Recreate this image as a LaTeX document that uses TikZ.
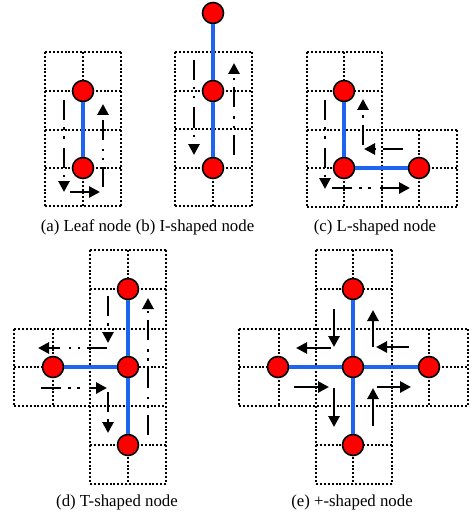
\documentclass[tikz,border=0pt]{standalone}
\usepackage{fontspec}
\setmainfont{Liberation Serif}
\usetikzlibrary{arrows.meta}
\definecolor{edgeblue}{RGB}{30,100,240}
\begin{document}
\begin{tikzpicture}[x=1pt,y=-1pt,
  gridln/.style={line width=2pt, dash pattern=on 2pt off 1.9pt},
  edge/.style={draw=edgeblue, line width=4.2pt},
  vtx/.style={circle, fill=red, draw=black, line width=1.6pt, minimum size=21pt, inner sep=0pt},
  tour/.style={line width=2.9pt, -{Triangle[length=11pt,width=11pt]}, dash pattern=on 20pt off 7pt on 2.5pt off 6.5pt on 2.5pt off 9pt},
  solidtour/.style={line width=2.9pt, -{Triangle[length=11pt,width=11pt]}},
  captxt/.style={anchor=base, font=\fontsize{16.8}{20}\selectfont, inner sep=0pt}]
\useasboundingbox (0,0) rectangle (471,516);

% ---------- (a) grid ----------
\foreach \x in {45,83,121} \draw[gridln] (\x,52) -- (\x,206);
\foreach \y in {52,91,130,168,206} \draw[gridln] (45,\y) -- (121,\y);
% ---------- (b) grid ----------
\foreach \x in {175,213,252} \draw[gridln] (\x,52) -- (\x,206);
\foreach \y in {52,91,129,168,206} \draw[gridln] (175,\y) -- (252,\y);
% ---------- (c) grid ----------
\foreach \x in {307,344,382} \draw[gridln] (\x,52) -- (\x,207);
\foreach \x in {419,457} \draw[gridln] (\x,130) -- (\x,207);
\foreach \y in {52,91} \draw[gridln] (307,\y) -- (382,\y);
\foreach \y in {130,168,207} \draw[gridln] (307,\y) -- (457,\y);
% ---------- (d) grid ----------
\foreach \x in {90,128,166} \draw[gridln] (\x,250) -- (\x,484);
\foreach \x in {14,53} \draw[gridln] (\x,329) -- (\x,406);
\foreach \y in {250,289,445,484} \draw[gridln] (90,\y) -- (166,\y);
\foreach \y in {329,367,406} \draw[gridln] (14,\y) -- (166,\y);
% ---------- (e) grid ----------
\foreach \x in {316,353,392} \draw[gridln] (\x,250) -- (\x,484);
\foreach \x in {239,279,429,468} \draw[gridln] (\x,329) -- (\x,406);
\foreach \y in {250,289,445,484} \draw[gridln] (316,\y) -- (392,\y);
\foreach \y in {329,367,406} \draw[gridln] (239,\y) -- (468,\y);

% ---------- tour coordinates ----------
% (a)
\coordinate (a1s) at (64,100);  \coordinate (a1e) at (64,192);
\coordinate (a2s) at (70,192);  \coordinate (a2e) at (100,192);
\coordinate (a3s) at (103,187); \coordinate (a3e) at (103,104);
% (b)
\coordinate (b1s) at (194,60);  \coordinate (b1e) at (194,155);
\coordinate (b2s) at (234,155); \coordinate (b2e) at (234,63);
% (c)
\coordinate (c1s) at (325,100); \coordinate (c1e) at (325,189);
\coordinate (c2s) at (332,188); \coordinate (c2e) at (410,188);
\coordinate (c3s) at (363,145); \coordinate (c3e) at (363,99);
\coordinate (c4s) at (403,149); \coordinate (c4e) at (364,149);
% (d)
\coordinate (d1s) at (108,296); \coordinate (d1e) at (108,343);
\coordinate (d2s) at (107,348); \coordinate (d2e) at (38,348);
\coordinate (d3s) at (41,388);  \coordinate (d3e) at (107,388);
\coordinate (d4s) at (108,392); \coordinate (d4e) at (108,433);
\coordinate (d5s) at (148,435); \coordinate (d5e) at (148,298);
% (e)
\coordinate (e1s) at (334,309); \coordinate (e1e) at (334,347);
\coordinate (e2s) at (331,348); \coordinate (e2e) at (296,348);
\coordinate (e3s) at (373,347); \coordinate (e3e) at (373,310);
\coordinate (e4s) at (409,347); \coordinate (e4e) at (376,347);
\coordinate (e5s) at (294,387); \coordinate (e5e) at (329,387);
\coordinate (e6s) at (334,388); \coordinate (e6e) at (334,427);
\coordinate (e7s) at (373,426); \coordinate (e7e) at (373,388);
\coordinate (e8s) at (377,387); \coordinate (e8e) at (411,387);

% ---------- tour arrows ----------
\draw[tour] (a1s) -- (a1e);
\draw[solidtour] (a2s) -- (a2e);
\draw[tour] (a3s) -- (a3e);
\draw[tour] (b1s) -- (b1e);
\draw[tour] (b2s) -- (b2e);
\draw[tour] (c1s) -- (c1e);
\draw[tour] (c2s) -- (c2e);
\draw[tour] (c3s) -- (c3e);
\draw[tour] (c4s) -- (c4e);
\draw[tour] (d1s) -- (d1e);
\draw[tour] (d2s) -- (d2e);
\draw[tour] (d3s) -- (d3e);
\draw[tour] (d4s) -- (d4e);
\draw[tour] (d5s) -- (d5e);
\foreach \i in {1,...,8} \draw[solidtour] (e\i s) -- (e\i e);

% ---------- vertices ----------
\node[vtx] (A1) at (83,91) {};
\node[vtx] (A2) at (83,168) {};
\node[vtx] (B1) at (213,13) {};
\node[vtx] (B2) at (213,91) {};
\node[vtx] (B3) at (213,168) {};
\node[vtx] (C1) at (344,91) {};
\node[vtx] (C2) at (344,168) {};
\node[vtx] (C3) at (419,168) {};
\node[vtx] (D1) at (128,289) {};
\node[vtx] (D2) at (128,367) {};
\node[vtx] (D3) at (53,367) {};
\node[vtx] (D4) at (128,445) {};
\node[vtx] (E1) at (353,289) {};
\node[vtx] (E2) at (353,367) {};
\node[vtx] (E3) at (278,367) {};
\node[vtx] (E4) at (429,367) {};
\node[vtx] (E5) at (353,445) {};

% ---------- tree edges ----------
\draw[edge] (A1) -- (A2);
\draw[edge] (B1) -- (B2);
\draw[edge] (B2) -- (B3);
\draw[edge] (C1) -- (C2);
\draw[edge] (C2) -- (C3);
\draw[edge] (D1) -- (D2);
\draw[edge] (D2) -- (D3);
\draw[edge] (D2) -- (D4);
\draw[edge] (E1) -- (E2);
\draw[edge] (E2) -- (E3);
\draw[edge] (E2) -- (E4);
\draw[edge] (E2) -- (E5);

% ---------- captions ----------
\node[captxt] (capa) at (86,231) {(a) Leaf node};
\node[captxt] (capb) at (195,231) {(b) I-shaped node};
\node[captxt] (capc) at (375,231) {(c) L-shaped node};
\node[captxt] (capd) at (117,506) {(d) T-shaped node};
\node[captxt] (cape) at (352,506) {(e) +-shaped node};
\end{tikzpicture}
\end{document}
